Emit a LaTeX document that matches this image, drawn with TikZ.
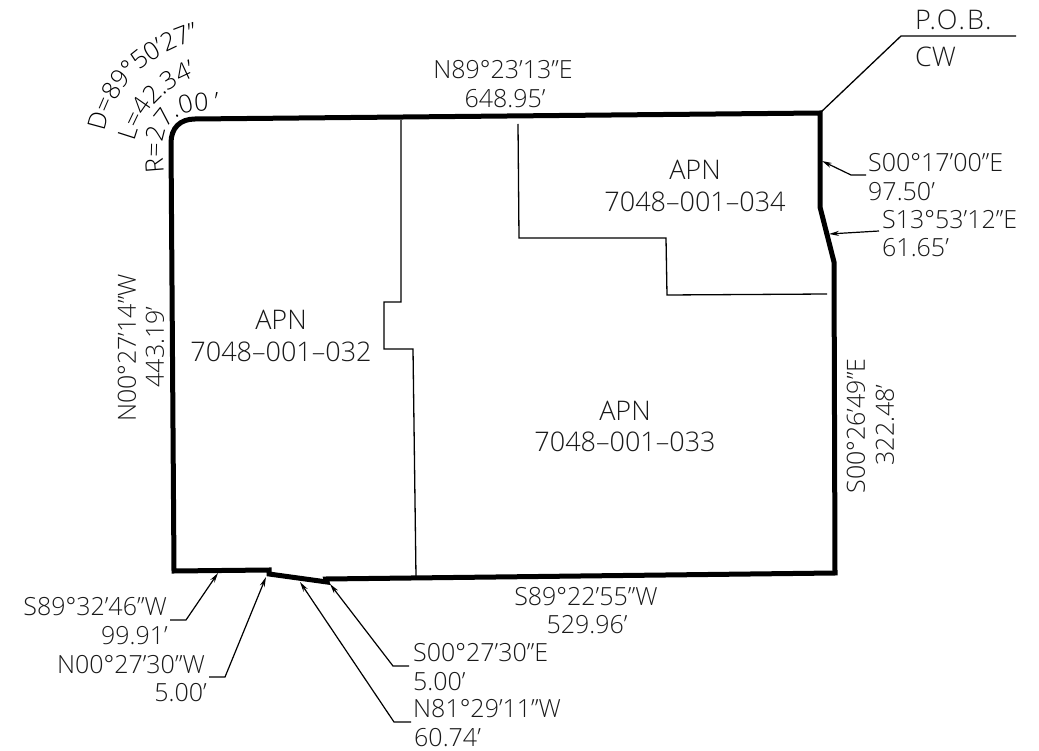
\documentclass[tikz,border=0pt]{standalone}
\usepackage{fontspec}
\setmainfont{Open Sans Light}
\usetikzlibrary{arrows.meta,decorations.text}
\tikzset{
 bound/.style={line width=5pt,line join=miter,black},
 thin line/.style={line width=1.3pt,black},
 leader/.style={line width=1.2pt,black,-{Stealth[length=10pt,width=5pt]}},
 lbl/.style={inner sep=0pt,font=\fontsize{25}{25}\selectfont,text=black!90},
 big/.style={lbl,font=\fontsize{27}{27}\selectfont},
 lft/.style={lbl,anchor=west},
 rgt/.style={lbl,anchor=east},
 curved/.style={decorate,decoration={text along path,text align=left,text={|\fontsize{25}{25}\selectfont|#1}}}
}
\begin{document}
\begin{tikzpicture}[x=1pt,y=-1pt]
\useasboundingbox (0,0) rectangle (1039,751);
% boundary
\coordinate (tr) at (820,113);
\coordinate (r1) at (820,207);
\coordinate (r2) at (834,262);
\coordinate (br) at (835,573);
\coordinate (b1) at (326,579);
\coordinate (b2) at (327,582);
\coordinate (b3) at (269,574);
\coordinate (b4) at (269,570);
\coordinate (bl) at (174,571);
\coordinate (l1) at (171,143);
\coordinate (t1) at (195,119);
\draw[bound] (t1) -- (tr) -- (r1) -- (r2) -- (br) -- (b1) -- (b2) -- (b3) -- (b4) -- (bl) -- (l1) .. controls (171,128) and (180,119) .. (t1);
% parcel lines
\coordinate (a1) at (401,120);
\coordinate (a2) at (401,302);
\coordinate (a3) at (384,302);
\coordinate (a4) at (384,349);
\coordinate (a5) at (413,349);
\coordinate (a6) at (416,577);
\draw[thin line] (a1) -- (a2) -- (a3) -- (a4) -- (a5) -- (a6);
\coordinate (c1) at (518,124);
\coordinate (c2) at (519,238);
\coordinate (c3) at (666,238);
\coordinate (c4) at (667,295);
\coordinate (c5) at (827,294);
\draw[thin line] (c1) -- (c2) -- (c3) -- (c4) -- (c5);
% POB
\coordinate (p1) at (901,36);
\coordinate (p2) at (1016,36);
\draw[thin line] (tr) -- (p1) -- (p2);
\node[big,anchor=west,font=\fontsize{27}{27}\addfontfeature{LetterSpace=8}\selectfont] (pob) at (915,20) {P.O.B.};
\node[big,anchor=west] (cw) at (915,57) {CW};
% parcels
\node[big] (apn4) at (695,170) {APN};
\node[big] (id4) at (695,202) {7048–001–034};
\node[big] (apn2) at (281,320) {APN};
\node[big] (id2) at (281,352) {7048–001–032};
\node[big] (apn3) at (625,411) {APN};
\node[big] (id3) at (625,442) {7048–001–033};
% courses
\node[lbl] (n89) at (503,70) {N89°23’13”E};
\node[lbl] (n89d) at (505,99) {648.95’};
\node[lft] (s00a) at (868,163) {S00°17’00”E};
\node[lft] (s00ad) at (868,192) {97.50’};
\node[lft] (s13) at (882,220) {S13°53’12”E};
\node[lft] (s13d) at (882,248) {61.65’};
\node[lbl,rotate=90] (n00) at (127,348) {N00°27’14”W};
\node[lbl,rotate=90] (n00d) at (155,347) {443.19’};
\node[lbl,rotate=90] (s0026) at (856,426) {S00°26’49”E};
\node[lbl,rotate=90] (s0026d) at (885,425) {322.48’};
\node[lbl] (s8922) at (586,597) {S89°22’55”W};
\node[lbl] (s8922d) at (587,625) {529.96’};
\node[rgt] (s8932) at (167,607) {S89°32’46”W};
\node[rgt] (s8932d) at (168,636) {99.91’};
\node[rgt] (n0027) at (205,665) {N00°27’30”W};
\node[rgt] (n0027d) at (207,693) {5.00’};
\node[lft] (s0027) at (413,653) {S00°27’30”E};
\node[lft] (s0027d) at (413,682) {5.00’};
\node[lft] (n81) at (413,709) {N81°29’11”W};
\node[lft] (n81d) at (414,738) {60.74’};
% leaders
\coordinate (q1s) at (866,175); \coordinate (q1b) at (851,175); \coordinate (q1t) at (822,161);
\draw[leader] (q1s) -- (q1b) -- (q1t);
\coordinate (q2s) at (879,231); \coordinate (q2t) at (829,234);
\draw[leader] (q2s) -- (q2t);
\coordinate (q3s) at (170,620); \coordinate (q3b) at (186,620); \coordinate (q3t) at (218,573);
\draw[leader] (q3s) -- (q3b) -- (q3t);
\coordinate (q4s) at (209,677); \coordinate (q4b) at (225,677); \coordinate (q4t) at (266,577);
\draw[leader] (q4s) -- (q4b) -- (q4t);
\coordinate (q5s) at (409,666); \coordinate (q5b) at (393,666); \coordinate (q5t) at (330,584);
\draw[leader] (q5s) -- (q5b) -- (q5t);
\coordinate (q6s) at (411,722); \coordinate (q6b) at (394,722); \coordinate (q6t) at (300,582);
\draw[leader] (q6s) -- (q6b) -- (q6t);
% curve data
\path[curved={D=89°50’27”}] (105,132) .. controls (114,86) and (146,56) .. (197,40) -- (240,26);
\path[curved={L=42.34’}] (135,142) .. controls (142,115) and (158,92) .. (192,78) -- (230,62);
\path[curved={R=27.00 ’}] (164,172) .. controls (160,135) and (165,113) .. (200,111) -- (260,108);
\end{tikzpicture}
\end{document}
